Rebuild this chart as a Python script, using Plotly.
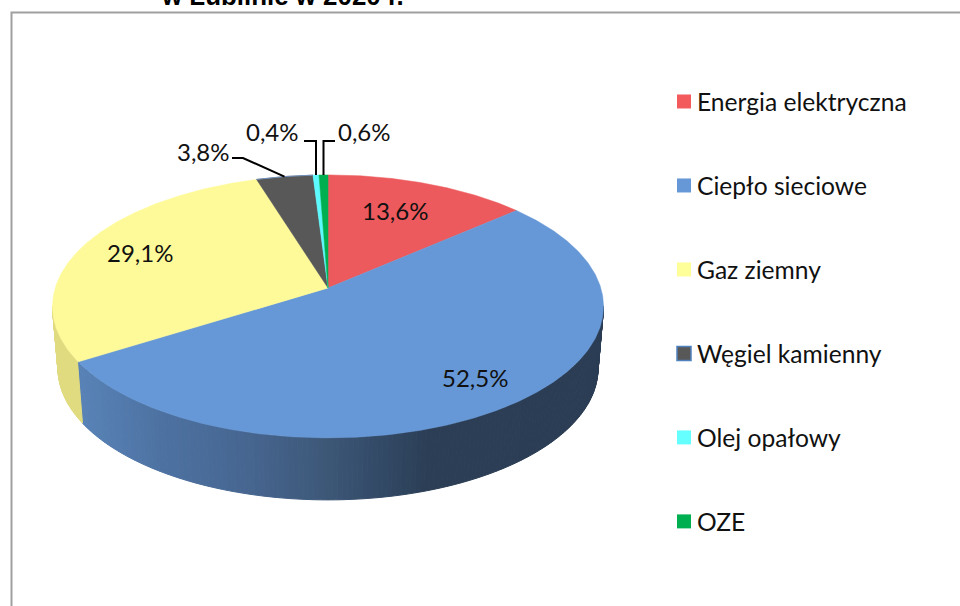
import numpy as np
import plotly.graph_objects as go

# ---- data ----
categories = ["Energia elektryczna", "Ciepło sieciowe", "Gaz ziemny",
              "Węgiel kamienny", "Olej opałowy", "OZE"]
shares = [13.6, 52.5, 29.1, 3.8, 0.4, 0.6]
labels = ["13,6%", "52,5%", "29,1%", "3,8%", "0,4%", "0,6%"]
title_fragment = "w Lublinie w 2020 r."

# ---- style ----
colors = ["#ED5A5D", "#6698D7", "#FEFA99", "#585858", "#5CFAFF", "#00B050"]
legend_colors = ["#F25A5C", "#6698D7", "#FFFF99", "#585858", "#66FFFF", "#00B050"]
FONT = "Lato"
CX, CY, RX, AY, K = 328.0, 288.0, 272.8, 128.9, 0.14   # projected disc
DEPTH, BOTTOM_SCALE = 62.0, 0.98
side_x = [80, 160, 250, 330, 400, 430, 610]
side_rgb = [(0x58, 0x82, 0xB6), (0x4D, 0x72, 0xA2), (0x46, 0x65, 0x8F),
            (0x3C, 0x56, 0x76), (0x2F, 0x45, 0x60), (0x2C, 0x3E, 0x55), (0x2B, 0x3D, 0x54)]
YELLOW_SIDE = "#E1DB80"


def project(theta, scale=1.0, dy=0.0):
    """Clockwise angle from top (radians) -> page coords of a tilted disc."""
    u, v = np.sin(theta), np.cos(theta)
    w = 1 + K * v
    return CX + scale * RX * u / w, CY - AY * v / w + dy


cum = np.concatenate([[0], np.cumsum(shares)]) / sum(shares) * 2 * np.pi
fig = go.Figure()


def poly(xs, ys, color, width=1.0):
    xs, ys = list(xs), list(ys)
    fig.add_trace(go.Scatter(x=xs + xs[:1], y=ys + ys[:1], mode="lines", fill="toself",
                             fillcolor=color, line=dict(color=color, width=width),
                             hoverinfo="skip", showlegend=False))


# side wall: front of the disc, split at the blue/yellow boundary
t_right, t_left = np.radians(98), np.radians(262)
edges = np.linspace(t_right, t_left, 181)
for a, b in zip(edges[:-1], edges[1:]):
    tt = np.linspace(a, b, 3)
    x1, y1 = project(tt)
    x2, y2 = project(tt[::-1], BOTTOM_SCALE, DEPTH)
    mid = (a + b) / 2
    if mid < cum[2]:
        xm = project(mid)[0]
        rgb = [np.interp(xm, side_x, [c[i] for c in side_rgb]) for i in range(3)]
        col = "rgb(%d,%d,%d)" % tuple(round(v) for v in rgb)
    else:
        col = YELLOW_SIDE
    poly(np.r_[x1, x2], np.r_[y1, y2], col)

# top of the disc
for i, c in enumerate(colors):
    tt = np.linspace(cum[i], cum[i + 1], max(3, int(shares[i] * 8)))
    x, y = project(tt)
    poly(np.r_[CX, x], np.r_[CY, y], c, width=0.5)

# thin blue edge on the dark slice
tt = np.linspace(cum[3], cum[4], 20)
x, y = project(tt)
fig.add_trace(go.Scatter(x=x, y=y, mode="lines", line=dict(color="#6F8FBC", width=1),
                         hoverinfo="skip", showlegend=False))

# legend entries
for i, name in enumerate(categories):
    border = dict(color="#4F81BD", width=1.5) if i == 3 else dict(width=0)
    fig.add_trace(go.Scatter(x=[None], y=[None], mode="markers", name=name,
                             legendgroup=name,
                             marker=dict(symbol="square", size=14,
                                         color=legend_colors[i], line=border)))

# data labels
label_pos = [(395, 210.5), (475, 377.5), (140, 252.5), (203, 151), (272, 131.5), (364, 131.5)]
annotations = [dict(x=p[0], y=p[1], text=t, showarrow=False, xanchor="center", yanchor="middle",
                    font=dict(family=FONT, size=24, color="#111111"))
               for p, t in zip(label_pos, labels)]
annotations.append(dict(x=282.5, y=12, text="<b>%s</b>" % title_fragment, showarrow=False,
                        xanchor="center", yanchor="bottom",
                        font=dict(family="Liberation Sans", size=25.9, color="#000000")))

# leader lines, ending on the rim at each slice's middle
mids = (cum[:-1] + cum[1:]) / 2
shapes = []
def leader(points):
    path = "M " + " L ".join("%.1f %.1f" % p for p in points)
    shapes.append(dict(type="path", path=path, line=dict(color="#000000", width=2), layer="above"))

leader([(232, 158), (243, 158), project(mids[3])])
xo = project(mids[4])[0]
leader([(304, 141), (xo, 141), (xo, project(mids[4])[1])])
xg = project(mids[5])[0]
leader([(335, 141), (xg, 141), (xg, project(mids[5])[1])])

# chart frame, running past the right and bottom of the page
shapes.append(dict(type="path", path="M 11.5 620 L 11.5 12.5 L 970 12.5",
                   line=dict(color="#A0A0A0", width=2), layer="below"))

fig.update_layout(
    width=960, height=606, margin=dict(l=0, r=0, t=0, b=0),
    paper_bgcolor="#FFFFFF", plot_bgcolor="#FFFFFF",
    xaxis=dict(range=[0, 960], visible=False, fixedrange=True),
    yaxis=dict(range=[606, 0], visible=False, fixedrange=True),
    annotations=annotations, shapes=shapes,
    legend=dict(x=657 / 960, y=1 - 79 / 606, xanchor="left", yanchor="top",
                bgcolor="rgba(0,0,0,0)", tracegroupgap=49,
                font=dict(family=FONT, size=24.6, color="#111111")),
)

# page without body margin; legend keys sit closer to their text than the default gap
post = """
document.body.style.margin = '0';
document.body.style.overflow = 'hidden';
var gd = document.getElementById('{plot_id}');
function nudge() {
  document.querySelectorAll('.legend .scatterpts').forEach(function (p) {
    p.setAttribute('transform', 'translate(27,0)');
  });
}
if (gd && gd.on) { gd.on('plotly_afterplot', nudge); }
nudge();
setTimeout(nudge, 50);
"""
fig.write_html("out.html", config=dict(displayModeBar=False), post_script=post)
